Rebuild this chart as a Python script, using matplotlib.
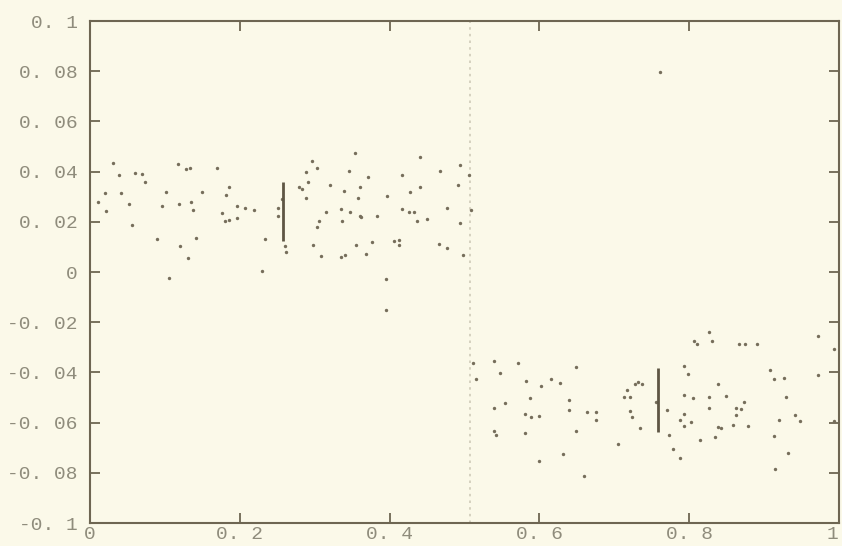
import matplotlib.pyplot as plt
from matplotlib.transforms import ScaledTranslation

# left cluster (x < 0.5)
left_x = [0.031, 0.118, 0.128, 0.133, 0.170, 0.060, 0.070, 0.039, 0.074, 0.185,
          0.020, 0.042, 0.102, 0.149, 0.182, 0.011, 0.135, 0.119, 0.052, 0.096,
          0.137, 0.196, 0.207, 0.219, 0.021, 0.176, 0.180, 0.185, 0.196, 0.251,
          0.056, 0.089, 0.142, 0.233, 0.120, 0.131, 0.229, 0.105, 0.256, 0.251,
          0.260, 0.262, 0.354, 0.297, 0.441, 0.303, 0.288, 0.346, 0.494, 0.467,
          0.506, 0.417, 0.371, 0.291, 0.279, 0.283, 0.321, 0.361, 0.441, 0.491,
          0.339, 0.289, 0.358, 0.396, 0.427, 0.335, 0.477, 0.315, 0.347, 0.416,
          0.426, 0.432, 0.509, 0.360, 0.362, 0.383, 0.306, 0.337, 0.450, 0.436,
          0.494, 0.303, 0.298, 0.355, 0.377, 0.406, 0.413, 0.413, 0.466, 0.476,
          0.309, 0.335, 0.341, 0.368, 0.498, 0.395, 0.395]
left_y = [0.0436, 0.0431, 0.0410, 0.0415, 0.0414, 0.0394, 0.0390, 0.0387, 0.0359, 0.0340,
          0.0314, 0.0314, 0.0318, 0.0318, 0.0305, 0.0278, 0.0278, 0.0270, 0.0272, 0.0262,
          0.0249, 0.0262, 0.0257, 0.0249, 0.0243, 0.0236, 0.0205, 0.0208, 0.0215, 0.0224,
          0.0187, 0.0131, 0.0136, 0.0131, 0.0102, 0.0054, 0.0005, -0.0024, 0.0290, 0.0255,
          0.0102, 0.0079, 0.0476, 0.0444, 0.0458, 0.0414, 0.0400, 0.0403, 0.0428, 0.0404,
          0.0387, 0.0387, 0.0378, 0.0358, 0.0339, 0.0330, 0.0346, 0.0338, 0.0338, 0.0348,
          0.0322, 0.0294, 0.0293, 0.0301, 0.0318, 0.0253, 0.0257, 0.0241, 0.0241, 0.0251,
          0.0240, 0.0240, 0.0248, 0.0224, 0.0220, 0.0224, 0.0205, 0.0205, 0.0212, 0.0205,
          0.0197, 0.0179, 0.0107, 0.0106, 0.0119, 0.0124, 0.0128, 0.0106, 0.0112, 0.0095,
          0.0062, 0.0060, 0.0066, 0.0073, 0.0066, -0.0027, -0.0150]

# right cluster (x > 0.5)
right_x = [0.512, 0.540, 0.572, 0.649, 0.516, 0.547, 0.616, 0.628, 0.602, 0.582,
           0.717, 0.727, 0.732, 0.737, 0.713, 0.721, 0.587, 0.554, 0.639, 0.756,
           0.540, 0.639, 0.663, 0.675, 0.721, 0.581, 0.589, 0.599, 0.675, 0.723,
           0.770, 0.734, 0.540, 0.542, 0.581, 0.649, 0.773, 0.705, 0.631, 0.599,
           0.659, 0.807, 0.811, 0.831, 0.866, 0.875, 0.890, 0.994, 0.793, 0.798,
           0.908, 0.913, 0.927, 0.972, 0.839, 0.793, 0.805, 0.826, 0.849, 0.929,
           0.826, 0.863, 0.869, 0.873, 0.793, 0.863, 0.788, 0.802, 0.793, 0.838,
           0.842, 0.859, 0.878, 0.920, 0.941, 0.948, 0.994, 0.834, 0.814, 0.913,
           0.778, 0.788, 0.932, 0.915, 0.826, 0.972, 0.761]
right_y = [-0.0362, -0.0354, -0.0362, -0.0378, -0.0425, -0.0404, -0.0425, -0.0442, -0.0453, -0.0436,
           -0.0469, -0.0446, -0.0440, -0.0446, -0.0498, -0.0498, -0.0502, -0.0522, -0.0508, -0.0518,
           -0.0543, -0.0549, -0.0559, -0.0559, -0.0552, -0.0567, -0.0579, -0.0572, -0.0588, -0.0576,
           -0.0551, -0.0623, -0.0632, -0.0648, -0.0641, -0.0632, -0.0651, -0.0685, -0.0725, -0.0751,
           -0.0814, -0.0274, -0.0286, -0.0274, -0.0288, -0.0286, -0.0288, -0.0305, -0.0374, -0.0405,
           -0.0392, -0.0426, -0.0421, -0.0412, -0.0446, -0.0489, -0.0503, -0.0496, -0.0493, -0.0498,
           -0.0543, -0.0540, -0.0544, -0.0519, -0.0565, -0.0568, -0.0588, -0.0597, -0.0615, -0.0616,
           -0.0623, -0.0609, -0.0615, -0.0589, -0.0569, -0.0592, -0.0592, -0.0658, -0.0668, -0.0652,
           -0.0706, -0.0739, -0.0722, -0.0784, -0.0237, -0.0256, 0.0798]

# vertical spread bars per cluster
bar_x = [0.258, 0.758]
bar_lo = [0.0124, -0.0637]
bar_hi = [0.0359, -0.0382]
split_x = 0.508

xticks = [0, 0.2, 0.4, 0.6, 0.8, 1]
xtick_labels = ["0", "0. 2", "0. 4", "0. 6", "0. 8", "1"]
yticks = [0.1, 0.08, 0.06, 0.04, 0.02, 0, -0.02, -0.04, -0.06, -0.08, -0.1]
ytick_labels = ["0. 1", "0. 08", "0. 06", "0. 04", "0. 02", "0",
                "-0. 02", "-0. 04", "-0. 06", "-0. 08", "-0. 1"]

paper = "#fbf9e9"
ink = "#6e6652"
label_col = "#8f8c7c"

fig = plt.figure(figsize=(8.42, 5.46), dpi=100, facecolor=paper)
ax = fig.add_axes([0.1069, 0.0421, 0.8895, 0.9194], facecolor=paper)

ax.axvline(split_x, color="#cfcbb8", lw=1.2, ls=(0, (1.5, 2.5)), zorder=1)
ax.scatter(left_x, left_y, s=6, color="#766e5b", linewidths=0, zorder=3)
ax.scatter(right_x, right_y, s=6, color="#766e5b", linewidths=0, zorder=3)
ax.vlines(bar_x, bar_lo, bar_hi, color="#5e5644", lw=2, zorder=4)

ax.set_xlim(0, 1)
ax.set_ylim(-0.1, 0.1)
ax.set_xticks(xticks)
ax.set_xticklabels(xtick_labels)
ax.set_yticks(yticks)
ax.set_yticklabels(ytick_labels)

for s in ax.spines.values():
    s.set_color(ink)
    s.set_linewidth(1.5)
ax.tick_params(direction="in", length=7, width=1.3, color=ink,
               top=True, right=True, labelcolor=label_col, labelsize=14)
ax.tick_params(axis="y", pad=9)
ax.tick_params(axis="x", pad=2)
for lab in ax.get_xticklabels() + ax.get_yticklabels():
    lab.set_family(["Liberation Mono", "DejaVu Sans Mono"])

# last x label sits at the page edge, nudge it in
last = ax.get_xticklabels()[-1]
last.set_transform(last.get_transform() + ScaledTranslation(-5 / 72, 0, fig.dpi_scale_trans))

fig.savefig("out.png", dpi=100, facecolor=paper)
